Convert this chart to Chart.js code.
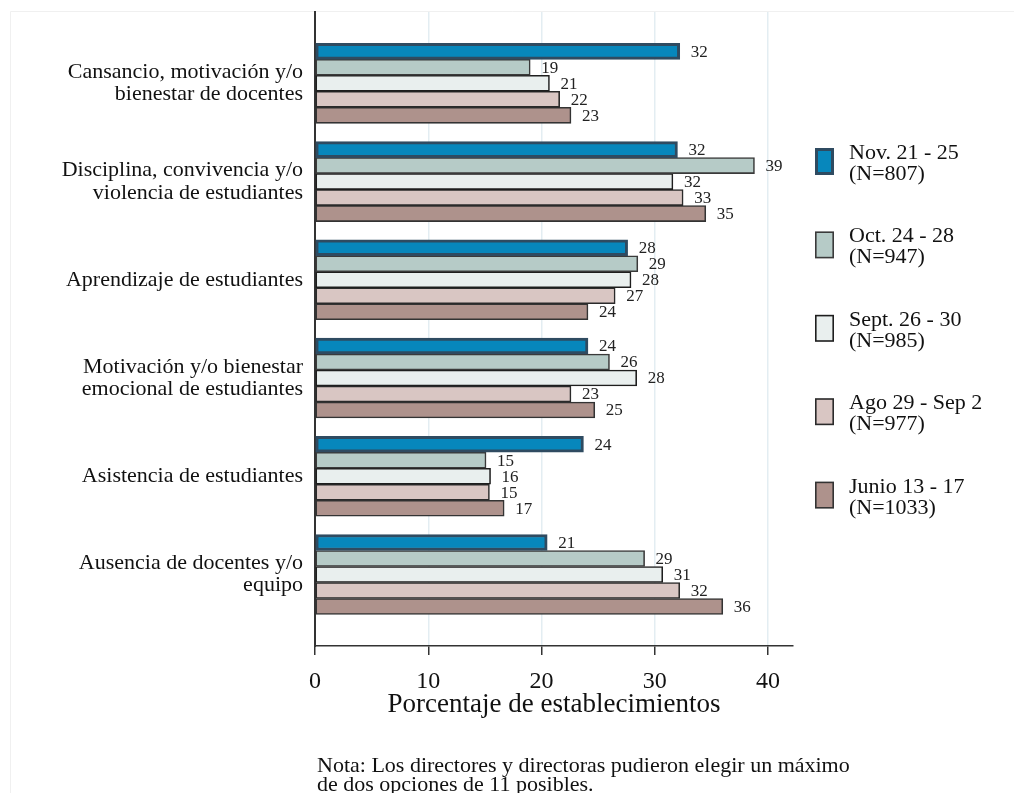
<!DOCTYPE html>
<html>
<head>
<meta charset="utf-8">
<script src="https://cdn.jsdelivr.net/npm/chart.js@4"></script>
<style>
  body { margin: 0; background: #fff; }
  #wrap { width: 1014px; height: 793px; position: relative; }
</style>
</head>
<body>
<div id="wrap"><canvas id="myChart"></canvas></div>
<script>
// categories (top to bottom)
var categorias = [
  ["Cansancio, motivación y/o", "bienestar de docentes"],
  ["Disciplina, convivencia y/o", "violencia de estudiantes"],
  "Aprendizaje de estudiantes",
  ["Motivación y/o bienestar", "emocional de estudiantes"],
  "Asistencia de estudiantes",
  ["Ausencia de docentes y/o", "equipo"]
];

// series, in the order they appear inside each group
var nov = [32.2, 32.0, 27.6, 24.1, 23.7, 20.5];
var oct = [19.0, 38.8, 28.5, 26.0, 15.1, 29.1];
var sept = [20.7, 31.6, 27.9, 28.4, 15.5, 30.7];
var ago = [21.6, 32.5, 26.5, 22.6, 15.4, 32.2];
var junio = [22.6, 34.5, 24.1, 24.7, 16.7, 36.0];

var leyenda = [
  ["Nov. 21 - 25", "(N=807)"],
  ["Oct. 24 - 28", "(N=947)"],
  ["Sept. 26 - 30", "(N=985)"],
  ["Ago 29 - Sep 2", "(N=977)"],
  ["Junio 13 - 17", "(N=1033)"]
];

var xTicks = [0, 10, 20, 30, 40];
var nota = [
  "Nota: Los directores y directoras pudieron elegir un máximo",
  "de dos opciones de 11 posibles."
];

var serif = '"Liberation Serif", "Times New Roman", serif';

var fills = ["#0787bc", "#b6cbc7", "#e9efee", "#d9c6c3", "#ae928c"];
var borders = ["#2f4b61", "#3a3a3a", "#1e1e1e", "#2a2a2a", "#333333"];
var bw = [3, 1.6, 1.6, 1.6, 1.6];

function makeDataset(i, data) {
  return {
    label: leyenda[i].join(" "),
    data: data,
    backgroundColor: fills[i],
    borderColor: borders[i],
    borderWidth: bw[i],
    borderSkipped: false,
    barThickness: 16
  };
}

var extras = {
  id: "extras",
  beforeDraw: function(chart) {
    var ctx = chart.ctx;
    ctx.save();
    ctx.fillStyle = "#fff";
    ctx.fillRect(0, 0, chart.width, chart.height);
    ctx.strokeStyle = "#f0f0f0";
    ctx.lineWidth = 1;
    ctx.beginPath();
    ctx.moveTo(10.5, chart.height);
    ctx.lineTo(10.5, 11.5);
    ctx.lineTo(chart.width, 11.5);
    ctx.stroke();
    ctx.restore();
  },
  afterDatasetsDraw: function(chart) {
    var ctx = chart.ctx;
    ctx.save();
    ctx.font = "17px " + serif;
    ctx.fillStyle = "#222";
    ctx.textBaseline = "middle";
    ctx.textAlign = "left";
    chart.data.datasets.forEach(function(ds, i) {
      chart.getDatasetMeta(i).data.forEach(function(bar, j) {
        ctx.fillText(Math.round(ds.data[j]), bar.x + 11, bar.y + 1);
      });
    });
    ctx.restore();
  },
  afterDraw: function(chart) {
    var ctx = chart.ctx;
    var area = chart.chartArea;
    ctx.save();
    // legend
    var lx = area.right + 22;
    leyenda.forEach(function(l, i) {
      var top = 148 + i * 83.4;
      ctx.fillStyle = borders[i];
      ctx.fillRect(lx, top, 19, 27);
      var b = bw[i];
      ctx.fillStyle = fills[i];
      ctx.fillRect(lx + b, top + b, 19 - 2 * b, 27 - 2 * b);
      ctx.fillStyle = "#111";
      ctx.font = "22px " + serif;
      ctx.textAlign = "left";
      ctx.textBaseline = "alphabetic";
      ctx.fillText(l[0], area.right + 56, top + 11);
      ctx.fillText(l[1], area.right + 56, top + 32);
    });
    // note
    ctx.font = "22px " + serif;
    ctx.fillStyle = "#111";
    ctx.fillText(nota[0], 317, 772);
    ctx.fillText(nota[1], 317, 791);
    ctx.restore();
  }
};

var ctx = document.getElementById("myChart").getContext("2d");
var myChart = new Chart(ctx, {
  type: "bar",
  data: {
    labels: categorias,
    datasets: [
      makeDataset(0, nov),
      makeDataset(1, oct),
      makeDataset(2, sept),
      makeDataset(3, ago),
      makeDataset(4, junio)
    ]
  },
  options: {
    indexAxis: "y",
    responsive: true,
    maintainAspectRatio: false,
    animation: false,
    layout: { padding: { left: 0, right: 221, top: 12, bottom: 72 } },
    plugins: {
      legend: { display: false },
      tooltip: { enabled: false }
    },
    scales: {
      x: {
        min: 0,
        max: 42.2,
        afterFit: function(s) { s.height = 75; s.paddingLeft = 0; s.paddingRight = 0; },
        afterBuildTicks: function(s) {
          s.ticks = xTicks.map(function(v) { return { value: v }; });
        },
        ticks: {
          includeBounds: false,
          padding: 12,
          color: "#111",
          font: { family: serif, size: 24 }
        },
        title: {
          display: true,
          text: "Porcentaje de establecimientos",
          color: "#111",
          font: { family: serif, size: 27 },
          padding: 0
        },
        grid: {
          color: "#e3edf2",
          lineWidth: 1.5,
          drawTicks: true,
          tickLength: 9,
          tickColor: "#333",
          tickWidth: 1.5
        },
        border: { color: "#333", width: 1.5 }
      },
      y: {
        afterFit: function(s) { s.width = 315; s.paddingTop = 0; s.paddingBottom = 0; },
        afterBuildTicks: function(s) {
          s._startValue = -0.726;
          s._valueRange = 6.454;
        },
        ticks: {
          padding: 12,
          color: "#111",
          font: { family: serif, size: 22, lineHeight: 1.02 }
        },
        grid: { display: false, drawTicks: false, tickLength: 0 },
        border: { color: "#333", width: 2 }
      }
    }
  },
  plugins: [extras]
});
</script>
</body>
</html>
